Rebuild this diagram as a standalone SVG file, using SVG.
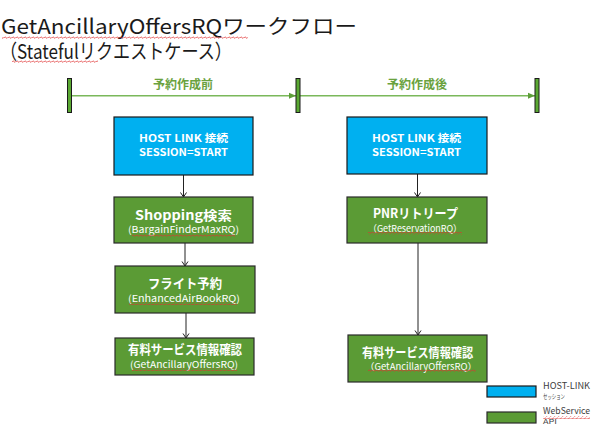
<svg xmlns="http://www.w3.org/2000/svg" width="600" height="438" viewBox="0 0 600 438">
<style>
.t{font-family:"Noto Sans CJK JP","Noto Sans",sans-serif;}
.title{font-size:20.5px;fill:#1a1a1a;}
.blue{fill:#00b0f0;stroke:#1a1a1a;stroke-width:1.2;}
.green{fill:#5b9b35;stroke:#2a2a2a;stroke-width:1.2;}
.bt{font-size:10.5px;font-weight:bold;fill:#fff;text-anchor:middle;}
.gt{font-size:13px;font-weight:bold;fill:#fff;text-anchor:middle;}
.gs{font-size:9.5px;fill:#fff;text-anchor:middle;}
.lab{font-size:12px;font-weight:bold;fill:#6aa23e;text-anchor:middle;}
.bar{fill:#5aa832;stroke:#1a1a1a;stroke-width:1;}
.conn{stroke:#222;stroke-width:1;fill:none;marker-end:url(#ah);}
.tl{stroke:#7ab85a;stroke-width:1.5;fill:none;marker-end:url(#gh);}
.leg{font-size:9px;fill:#404040;}
.legs{font-size:6.5px;fill:#404040;}
.wav{fill:url(#wave);}
</style>
<defs>
<marker id="ah" markerWidth="8" markerHeight="8" refX="7" refY="4" orient="auto" markerUnits="userSpaceOnUse" viewBox="0 0 8 8">
<path d="M2.5,1 L7,4 L2.5,7" fill="none" stroke="#222" stroke-width="1"/>
</marker>
<marker id="gh" markerWidth="8" markerHeight="8" refX="7" refY="4" orient="auto" markerUnits="userSpaceOnUse" viewBox="0 0 8 8">
<path d="M0,1 L7,4 L0,7 Z" fill="#5e9e3a"/>
</marker>
<pattern id="wave" width="4" height="3" patternUnits="userSpaceOnUse">
<path d="M0,2 L1,0.8 L3,2.4 L4,1.2" fill="none" stroke="#e03030" stroke-width="0.7"/>
</pattern>
</defs>

<g id="title">
<text class="t title" x="1" y="33.5" textLength="356" lengthAdjust="spacingAndGlyphs">GetAncillaryOffersRQワークフロー</text>
<text class="t title" x="0" y="59" textLength="232" lengthAdjust="spacingAndGlyphs">（Statefulリクエストケース）</text>
</g>

<g id="timeline">
<line class="tl" x1="71.5" y1="95.7" x2="296" y2="95.7"/>
<line class="tl" x1="300" y1="95.7" x2="535" y2="95.7"/>
<rect class="bar" x="67.5" y="78.5" width="4" height="34"/>
<rect class="bar" x="296" y="78.5" width="4" height="34"/>
<rect class="bar" x="535" y="78.5" width="4" height="34"/>
<text class="t lab" x="183" y="89" textLength="60" lengthAdjust="spacingAndGlyphs">予約作成前</text>
<text class="t lab" x="417" y="89" textLength="60" lengthAdjust="spacingAndGlyphs">予約作成後</text>
</g>

<g id="connectors">
<line class="conn" x1="183.5" y1="175" x2="183.5" y2="197"/>
<line class="conn" x1="185" y1="243" x2="185" y2="266"/>
<line class="conn" x1="186" y1="313" x2="186" y2="338"/>
<line class="conn" x1="417.5" y1="174" x2="417.5" y2="197"/>
<line class="conn" x1="418" y1="243" x2="418" y2="335"/>
</g>

<g id="node-hostlink-left">
<rect class="blue" x="114" y="117" width="139" height="58"/>
<text class="t bt" x="183.5" y="142" textLength="89" lengthAdjust="spacingAndGlyphs">HOST  LINK 接続</text>
<text class="t bt" x="183.5" y="156" textLength="89" lengthAdjust="spacingAndGlyphs">SESSION=START</text>
</g>

<g id="node-shopping">
<rect class="green" x="114" y="197" width="139" height="46"/>
<text class="t gt" x="183.5" y="219.5" textLength="97" lengthAdjust="spacingAndGlyphs">Shopping検索</text>
<text class="t gs" x="183.5" y="233" textLength="111" lengthAdjust="spacingAndGlyphs">(BargainFinderMaxRQ)</text>
</g>

<g id="node-flight">
<rect class="green" x="115" y="266" width="140" height="47"/>
<text class="t gt" x="185" y="288" textLength="74" lengthAdjust="spacingAndGlyphs">フライト予約</text>
<text class="t gs" x="184" y="302" textLength="112" lengthAdjust="spacingAndGlyphs">(EnhancedAirBookRQ)</text>
</g>

<g id="node-ancillary-left">
<rect class="green" x="115" y="338" width="139" height="37"/>
<text class="t gt" x="185" y="353.5" textLength="114" lengthAdjust="spacingAndGlyphs">有料サービス情報確認</text>
<text class="t gs" x="184" y="367.5" textLength="108" lengthAdjust="spacingAndGlyphs">(GetAncillaryOffersRQ)</text>
</g>

<g id="node-hostlink-right">
<rect class="blue" x="347" y="117" width="140" height="57"/>
<text class="t bt" x="416.5" y="142" textLength="89" lengthAdjust="spacingAndGlyphs">HOST  LINK 接続</text>
<text class="t bt" x="416.5" y="156" textLength="89" lengthAdjust="spacingAndGlyphs">SESSION=START</text>
</g>

<g id="node-pnr">
<rect class="green" x="347" y="197" width="140" height="46"/>
<text class="t gt" x="415.5" y="218" textLength="85" lengthAdjust="spacingAndGlyphs">PNRリトリープ</text>
<text class="t gs" x="415" y="232" textLength="94" lengthAdjust="spacingAndGlyphs">（GetReservationRQ）</text>
</g>

<g id="node-ancillary-right">
<rect class="green" x="348" y="335" width="139" height="47"/>
<text class="t gt" x="417.5" y="356.5" textLength="111" lengthAdjust="spacingAndGlyphs">有料サービス情報確認</text>
<text class="t gs" x="421" y="370" textLength="112" lengthAdjust="spacingAndGlyphs">（GetAncillaryOffersRQ）</text>
</g>

<g id="legend">
<rect class="blue" x="487" y="386" width="49" height="11"/>
<rect class="green" x="487" y="412" width="49" height="11"/>
<text class="t leg" x="543" y="389" textLength="47" lengthAdjust="spacingAndGlyphs">HOST-LINK</text>
<text class="t legs" x="543" y="398.5" textLength="22" lengthAdjust="spacingAndGlyphs">セッション</text>
<text class="t leg" x="543" y="413.5" textLength="47" lengthAdjust="spacingAndGlyphs">WebService</text>
<text class="t legs" x="543" y="423.5" textLength="14" lengthAdjust="spacingAndGlyphs">API</text>
</g>

<g id="spellcheck-underlines">
<rect class="wav" x="2" y="36" width="246" height="3"/>
<rect class="wav" x="12" y="60" width="86" height="3"/>
<rect class="wav" x="132" y="234" width="103" height="3"/>
<rect class="wav" x="129" y="302" width="108" height="3"/>
<rect class="wav" x="132" y="368" width="105" height="3"/>
<rect class="wav" x="368" y="232" width="94" height="3"/>
<rect class="wav" x="368" y="369" width="108" height="3"/>
<rect class="wav" x="543" y="416" width="47" height="3"/>
</g>
</svg>
